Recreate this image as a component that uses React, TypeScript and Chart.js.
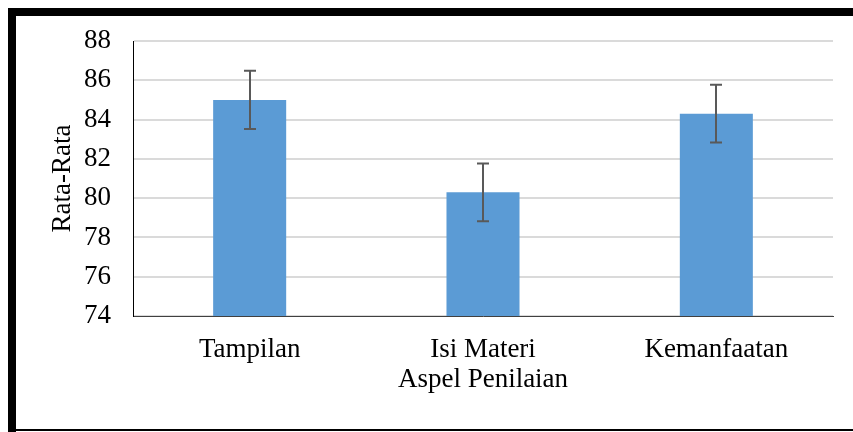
import React, { useEffect, useRef } from "react";
import { Chart, registerables } from "chart.js";

Chart.register(...registerables);

const categories = ["Tampilan", "Isi Materi", "Kemanfaatan"];
const means = [85.0, 80.3, 84.3];
const errors = [1.48, 1.47, 1.47];
const yTicks = [74, 76, 78, 80, 82, 84, 86, 88];

const FONT = "'Liberation Serif', 'Times New Roman', serif";
const FSIZE = 27;

const framePlugin = {
  id: "frame",
  beforeDraw(chart: any) {
    const ctx = chart.ctx;
    ctx.save();
    ctx.fillStyle = "#ffffff";
    ctx.fillRect(0, 0, chart.width, chart.height);
    ctx.fillStyle = "#000000";
    ctx.fillRect(8, 8, chart.width - 8, 8);
    ctx.fillRect(8, 8, 8, chart.height - 8);
    ctx.fillRect(8, 429, chart.width - 8, 2);
    ctx.restore();
  },
};

const errorBarPlugin = {
  id: "errorBars",
  afterDatasetsDraw(chart: any) {
    const ctx = chart.ctx;
    const meta = chart.getDatasetMeta(0);
    const y = chart.scales.y;
    ctx.save();
    ctx.strokeStyle = "#595959";
    ctx.lineWidth = 2;
    meta.data.forEach((bar: any, i: number) => {
      const x = Math.round(bar.x);
      const top = y.getPixelForValue(means[i] + errors[i]);
      const bot = y.getPixelForValue(means[i] - errors[i]);
      ctx.beginPath();
      ctx.moveTo(x, top);
      ctx.lineTo(x, bot);
      ctx.moveTo(x - 6, top);
      ctx.lineTo(x + 6, top);
      ctx.moveTo(x - 6, bot);
      ctx.lineTo(x + 6, bot);
      ctx.stroke();
    });
    ctx.restore();
  },
};

export default function App() {
  const ref = useRef<HTMLCanvasElement | null>(null);

  useEffect(() => {
    if (!ref.current) return;
    const chart = new Chart(ref.current, {
      type: "bar",
      data: {
        labels: categories,
        datasets: [
          {
            data: means,
            backgroundColor: "#5B9BD5",
            borderWidth: 0,
            barPercentage: 0.313,
            categoryPercentage: 1,
          },
        ],
      },
      options: {
        responsive: false,
        animation: false,
        layout: { padding: { top: 41, right: 20, bottom: 0, left: 16 } },
        plugins: {
          legend: { display: false },
          tooltip: { enabled: false },
        },
        scales: {
          x: {
            grid: { display: false, drawTicks: false },
            border: { display: true, color: "#404040", width: 1 },
            ticks: {
              color: "#000",
              padding: 17.8,
              font: { family: FONT, size: FSIZE },
            },
            title: {
              display: true,
              text: "Aspel Penilaian",
              color: "#000",
              font: { family: FONT, size: FSIZE },
              padding: { top: 0, bottom: 35.8 },
            },
            afterFit(s: any) {
              s.height = 116;
            },
          },
          y: {
            min: 74,
            max: 88,
            afterBuildTicks(s: any) {
              s.ticks = yTicks.map((v) => ({ value: v }));
            },
            grid: { color: "#dadada", lineWidth: 2, drawTicks: false },
            border: { display: true, color: "#000", width: 1 },
            ticks: {
              color: "#000",
              padding: 22,
              font: { family: FONT, size: FSIZE },
            },
            title: {
              display: true,
              text: "Rata-Rata",
              color: "#000",
              font: { family: FONT, size: FSIZE },
              padding: { top: 30.8, bottom: 0 },
            },
            afterFit(s: any) {
              s.width = 117;
            },
          },
        },
      },
      plugins: [framePlugin, errorBarPlugin],
    });
    return () => chart.destroy();
  }, []);

  return (
    <div style={{ position: "fixed", left: 0, top: 0, width: 853, height: 432, background: "#fff" }}>
      <canvas ref={ref} width={853} height={432} style={{ display: "block", width: 853, height: 432 }} />
    </div>
  );
}
